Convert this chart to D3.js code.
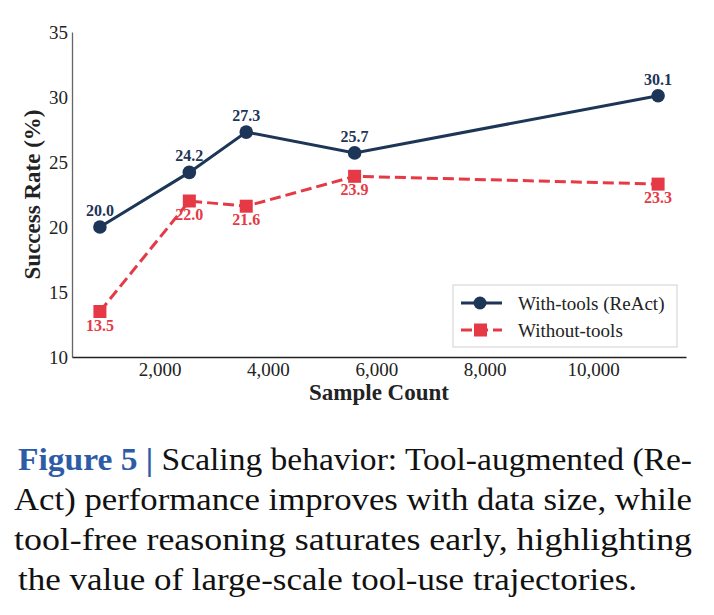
<!DOCTYPE html>
<html>
<head>
<meta charset="utf-8">
<script src="https://cdn.jsdelivr.net/npm/d3@7"></script>
<style>
  body { margin: 0; background: #fff; }
  svg { display: block; }
</style>
</head>
<body>
<div id="chart"></div>
<script>
// data
const sampleCounts = [900, 2550, 3600, 5600, 11200];
const withTools = [20.0, 24.2, 27.3, 25.7, 30.1];
const withoutTools = [13.5, 22.0, 21.6, 23.9, 23.3];
const yTicks = [10, 15, 20, 25, 30, 35];
const xTicks = [2000, 4000, 6000, 8000, 10000];
const seriesNames = ["With-tools (ReAct)", "Without-tools"];
const captionLines = [
    "Scaling behavior: Tool-augmented (Re-",
    "Act) performance improves with data size, while",
    "tool-free reasoning saturates early, highlighting",
    "the value of large-scale tool-use trajectories."
];

const width = 714;
const height = 615;
const margin = { top: 32, right: 28, bottom: 258, left: 72 };
const graphW = width - margin.left - margin.right;
const graphH = height - margin.top - margin.bottom;

const serif = "'Liberation Serif', 'Times New Roman', serif";
const blue = "#1d3557";
const red = "#e63946";

let svg = d3.select("#chart").append("svg")
    .attr("width", width)
    .attr("height", height);

let group = svg.append("g")
    .attr("transform", `translate(${margin.left}, ${margin.top})`);

// x scale with matplotlib-like 5% padding
const xMin = d3.min(sampleCounts), xMax = d3.max(sampleCounts);
const pad = (xMax - xMin) * 0.05;
const x = d3.scaleLinear()
    .domain([xMin - pad, xMax + pad])
    .range([0, graphW]);

const y = d3.scaleLinear()
    .domain([10, 35])
    .range([graphH, 0]);

// y axis
const yAxis = group.append("g")
    .call(d3.axisLeft(y).tickValues(yTicks).tickSize(0).tickPadding(4));
yAxis.select(".domain").attr("stroke", "#666").attr("stroke-width", 1.3);
yAxis.selectAll(".tick text")
    .style("font-family", serif)
    .style("font-size", "19px")
    .attr("fill", "#222");

// x axis
const xAxis = group.append("g")
    .attr("transform", `translate(0, ${graphH})`)
    .call(d3.axisBottom(x).tickValues(xTicks).tickSize(0).tickPadding(6)
        .tickFormat(d3.format(",")));
xAxis.select(".domain").attr("stroke", "#222").attr("stroke-width", 1.3);
xAxis.selectAll(".tick text")
    .style("font-family", serif)
    .style("font-size", "19px")
    .attr("fill", "#222");

// axis titles
group.append("text")
    .attr("x", graphW / 2)
    .attr("y", graphH + 43)
    .attr("text-anchor", "middle")
    .style("font-family", serif)
    .style("font-size", "23px")
    .style("font-weight", 700)
    .attr("fill", "#222")
    .text("Sample Count");

group.append("text")
    .attr("transform", `translate(-40, ${graphH / 2}) rotate(-90)`)
    .attr("text-anchor", "middle")
    .attr("dy", "0.35em")
    .style("font-family", serif)
    .style("font-size", "23px")
    .style("font-weight", 700)
    .attr("fill", "#222")
    .text("Success Rate (%)");

const line = d3.line()
    .x((d, i) => x(sampleCounts[i]))
    .y(d => y(d));

// without-tools (dashed, squares)
group.append("path")
    .datum(withoutTools)
    .attr("fill", "none")
    .attr("stroke", red)
    .attr("stroke-width", 3)
    .attr("stroke-dasharray", "11,5")
    .attr("d", line);

group.append("g")
    .selectAll("rect")
    .data(withoutTools)
    .enter()
    .append("rect")
    .attr("x", (d, i) => x(sampleCounts[i]) - 6.5)
    .attr("y", d => y(d) - 6.5)
    .attr("width", 13)
    .attr("height", 13)
    .attr("fill", red);

group.append("g")
    .selectAll("text")
    .data(withoutTools)
    .enter()
    .append("text")
    .attr("x", (d, i) => x(sampleCounts[i]))
    .attr("y", d => y(d) + 19)
    .attr("text-anchor", "middle")
    .style("font-family", serif)
    .style("font-size", "16px")
    .style("font-weight", 700)
    .attr("fill", red)
    .text(d => d.toFixed(1));

// with-tools (solid, circles)
group.append("path")
    .datum(withTools)
    .attr("fill", "none")
    .attr("stroke", blue)
    .attr("stroke-width", 3)
    .attr("d", line);

group.append("g")
    .selectAll("circle")
    .data(withTools)
    .enter()
    .append("circle")
    .attr("cx", (d, i) => x(sampleCounts[i]))
    .attr("cy", d => y(d))
    .attr("r", 6.8)
    .attr("fill", blue);

group.append("g")
    .selectAll("text")
    .data(withTools)
    .enter()
    .append("text")
    .attr("x", (d, i) => x(sampleCounts[i]))
    .attr("y", d => y(d) - 11)
    .attr("text-anchor", "middle")
    .style("font-family", serif)
    .style("font-size", "16px")
    .style("font-weight", 700)
    .attr("fill", blue)
    .text(d => d.toFixed(1));

// legend
const legend = group.append("g")
    .attr("transform", `translate(${453 - margin.left}, ${285 - margin.top})`);
legend.append("rect")
    .attr("width", 224)
    .attr("height", 62)
    .attr("fill", "#fff")
    .attr("stroke", "#cfcfcf")
    .attr("stroke-width", 1);

const legendRows = legend.selectAll(".row")
    .data(seriesNames)
    .enter()
    .append("g")
    .attr("class", "row")
    .attr("transform", (d, i) => `translate(0, ${18 + i * 27})`);

legendRows.append("line")
    .attr("x1", 8).attr("x2", 49)
    .attr("stroke", (d, i) => i === 0 ? blue : red)
    .attr("stroke-width", 3)
    .attr("stroke-dasharray", (d, i) => i === 0 ? null : "11,5");
legendRows.filter((d, i) => i === 0).append("circle")
    .attr("cx", 27).attr("r", 6.5).attr("fill", blue);
legendRows.filter((d, i) => i === 1).append("rect")
    .attr("x", 21).attr("y", -6.5).attr("width", 13).attr("height", 13).attr("fill", red);
legendRows.append("text")
    .attr("x", 65)
    .attr("dy", "0.35em")
    .style("font-family", serif)
    .style("font-size", "19px")
    .attr("fill", "#222")
    .text(d => d);

// caption
const caption = svg.append("g");
const first = caption.append("text")
    .attr("x", 18)
    .attr("y", 470)
    .attr("textLength", 674)
    .attr("lengthAdjust", "spacingAndGlyphs")
    .style("font-family", serif)
    .style("font-size", "32px")
    .attr("fill", "#111");
first.append("tspan")
    .attr("fill", "#2d5ba6")
    .style("font-weight", 700)
    .text("Figure 5 | ");
first.append("tspan").text(captionLines[0]);

const lineWidths = [678, 678, 619];
captionLines.slice(1).forEach((t, i) => {
    caption.append("text")
        .attr("x", 14 + (i === 2 ? 4 : 0))
        .attr("y", 510 + i * 40)
        .attr("textLength", lineWidths[i])
        .attr("lengthAdjust", "spacingAndGlyphs")
        .style("font-family", serif)
        .style("font-size", "32px")
        .attr("fill", "#111")
        .text(t);
});
</script>
</body>
</html>
